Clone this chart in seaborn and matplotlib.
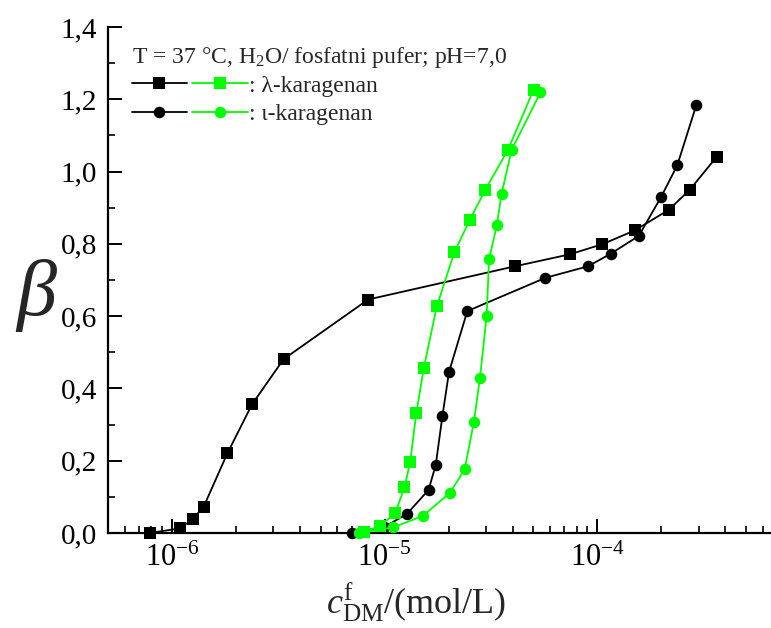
import numpy as np
import pandas as pd
import seaborn as sns
import matplotlib
matplotlib.use("Agg")
import matplotlib.pyplot as plt
from matplotlib.ticker import FixedLocator, LogLocator, MultipleLocator, FuncFormatter, NullFormatter
from matplotlib.legend_handler import HandlerTuple
from matplotlib.lines import Line2D

# ---- data ----
lam_black_x = [7.9e-7, 1.09e-6, 1.25e-6, 1.41e-6, 1.82e-6, 2.38e-6, 3.35e-6, 8.37e-6,
               4.11e-5, 7.43e-5, 1.058e-4, 1.50e-4, 2.17e-4, 2.72e-4, 3.65e-4]
lam_black_y = [0.0, 0.013, 0.038, 0.073, 0.22, 0.356, 0.481, 0.646,
               0.738, 0.771, 0.799, 0.837, 0.894, 0.949, 1.041]

iota_black_x = [7.02e-6, 9.98e-6, 1.27e-5, 1.61e-5, 1.74e-5, 1.87e-5, 2.01e-5, 2.45e-5,
                5.71e-5, 9.06e-5, 1.16e-4, 1.57e-4, 1.995e-4, 2.38e-4, 2.93e-4]
iota_black_y = [0.0, 0.017, 0.052, 0.119, 0.188, 0.323, 0.446, 0.614,
                0.706, 0.738, 0.773, 0.822, 0.929, 1.017, 1.185]

lam_green_x = [8.0e-6, 9.53e-6, 1.12e-5, 1.24e-5, 1.32e-5, 1.41e-5, 1.53e-5, 1.76e-5,
               2.13e-5, 2.52e-5, 2.98e-5, 3.81e-5, 5.03e-5]
lam_green_y = [0.002, 0.02, 0.054, 0.126, 0.197, 0.332, 0.457, 0.627,
               0.777, 0.867, 0.950, 1.061, 1.227]

iota_green_x = [7.6e-6, 1.10e-5, 1.51e-5, 2.03e-5, 2.38e-5, 2.63e-5, 2.81e-5, 3.02e-5,
                3.10e-5, 3.37e-5, 3.55e-5, 3.96e-5, 5.41e-5]
iota_green_y = [0.0, 0.016, 0.047, 0.111, 0.176, 0.307, 0.430, 0.600,
                0.757, 0.851, 0.938, 1.060, 1.219]

y_ticks = [0.0, 0.2, 0.4, 0.6, 0.8, 1.0, 1.2, 1.4]
x_ticks = [1e-6, 1e-5, 1e-4]
x_tick_labels = [r"$\mathregular{10^{-6}}$", r"$\mathregular{10^{-5}}$", r"$\mathregular{10^{-4}}$"]

note_text = r"T = 37 °C, H$_\mathregular{2}$O/ fosfatni pufer; pH=7,0"
label_lam = ": λ-karagenan"
label_iota = ": ι-karagenan"

# ---- style ----
sns.set_style("ticks")
plt.rcParams["font.family"] = ["Liberation Serif", "DejaVu Serif"]
plt.rcParams["mathtext.fontset"] = "custom"
plt.rcParams["mathtext.rm"] = "Liberation Serif"
plt.rcParams["mathtext.it"] = "Liberation Serif:italic"
plt.rcParams["mathtext.bf"] = "Liberation Serif:bold"

BLACK = "#000000"
GREEN = "#00FF00"
LW = 1.3
MS = 8.3

fig = plt.figure(figsize=(7.71, 6.28), dpi=100)
ax = fig.add_axes([108 / 771, 1 - 533 / 628, (770 - 108) / 771, (533 - 27) / 628])

series = [
    (lam_black_x, lam_black_y, BLACK, "s"),
    (iota_black_x, iota_black_y, BLACK, "o"),
    (lam_green_x, lam_green_y, GREEN, "s"),
    (iota_green_x, iota_green_y, GREEN, "o"),
]
for xs, ys, col, mk in series:
    df = pd.DataFrame({"x": xs, "y": ys})
    sns.lineplot(data=df, x="x", y="y", sort=False, color=col, lw=LW,
                 marker=mk, markersize=MS, markeredgewidth=0,
                 markerfacecolor=col, ax=ax, clip_on=False, zorder=3)

ax.set_xscale("log")
ax.set_xlim(5e-7, 6.5e-4)
ax.set_ylim(0.0, 1.4)

for s in ["top", "right"]:
    ax.spines[s].set_visible(False)
for s in ["left", "bottom"]:
    ax.spines[s].set_linewidth(1.6)
    ax.spines[s].set_color("black")

ax.yaxis.set_major_locator(FixedLocator(y_ticks))
ax.yaxis.set_minor_locator(MultipleLocator(0.1))
ax.yaxis.set_major_formatter(FuncFormatter(lambda v, p: f"{v:.1f}".replace(".", ",")))
ax.xaxis.set_major_locator(FixedLocator(x_ticks))
ax.set_xticklabels(x_tick_labels)
ax.xaxis.set_minor_locator(LogLocator(base=10, subs=np.arange(2, 10), numticks=20))
ax.xaxis.set_minor_formatter(NullFormatter())

ax.tick_params(axis="both", which="major", direction="in", length=10, width=1.4,
               labelsize=21, color="black", labelcolor="black")
ax.tick_params(axis="x", which="major", labelsize=22)
ax.tick_params(axis="both", which="minor", direction="in", length=5, width=1.2, color="black")
ax.tick_params(axis="y", which="major", pad=8)
ax.tick_params(axis="x", which="major", pad=8)

ax.set_xlabel(r"$\mathit{c}^{\mathregular{f}}_{\mathregular{DM}}\mathregular{/(mol/L)}$",
              fontsize=26, labelpad=2)
ax.set_ylabel(r"$\mathit{\beta}$", fontsize=58, rotation=0, labelpad=0, va="center")
ax.yaxis.set_label_coords(-0.108, 0.47)
ax.xaxis.set_label_coords(0.465, -0.093)

ax.text(0.036, 0.965, note_text, transform=ax.transAxes, fontsize=17, va="top", ha="left")

h_lb = Line2D([], [], color=BLACK, lw=LW, marker="s", ms=MS, mew=0)
h_lg = Line2D([], [], color=GREEN, lw=LW, marker="s", ms=MS, mew=0)
h_ib = Line2D([], [], color=BLACK, lw=LW, marker="o", ms=MS, mew=0)
h_ig = Line2D([], [], color=GREEN, lw=LW, marker="o", ms=MS, mew=0)
leg = ax.legend([(h_lb, h_lg), (h_ib, h_ig)], [label_lam, label_iota],
                handler_map={tuple: HandlerTuple(ndivide=None, pad=0.22)},
                loc="upper left", bbox_to_anchor=(0.036, 0.905), frameon=False,
                fontsize=17, handlelength=4.9, handletextpad=0.05, labelspacing=0.3,
                borderaxespad=0, borderpad=0)

fig.savefig("out.png", dpi=100)
